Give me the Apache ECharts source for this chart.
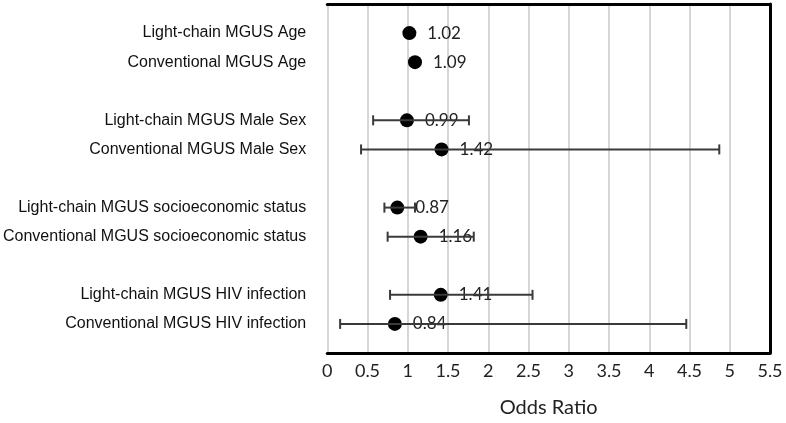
<!DOCTYPE html>
<html>
<head>
<meta charset="utf-8">
<script src="https://cdn.jsdelivr.net/npm/echarts@6/dist/echarts.min.js"></script>
<style>html,body{margin:0;padding:0;background:#fff;}#c{width:786px;height:423px;}</style>
</head>
<body>
<div id="c"></div>
<script>
var categories = ["", "Light-chain MGUS Age", "Conventional MGUS Age", "",
  "Light-chain MGUS Male Sex", "Conventional MGUS Male Sex", "",
  "Light-chain MGUS socioeconomic status", "Conventional MGUS socioeconomic status", "",
  "Light-chain MGUS HIV infection", "Conventional MGUS HIV infection", ""];
var oddsRatio = [null, 1.02, 1.09, null, 0.99, 1.42, null, 0.87, 1.16, null, 1.41, 0.84, null];
var lowerCI   = [null, 1.02, 1.09, null, 0.57, 0.42, null, 0.71, 0.75, null, 0.78, 0.16, null];
var upperCI   = [null, 1.02, 1.09, null, 1.76, 4.87, null, 1.09, 1.82, null, 2.55, 4.46, null];
var xTicks = [0, 0.5, 1, 1.5, 2, 2.5, 3, 3.5, 4, 4.5, 5, 5.5];

var pointData = [], errData = [];
for (var i = 0; i < categories.length; i++) {
  if (oddsRatio[i] == null) continue;
  pointData.push([oddsRatio[i], i]);
  if (upperCI[i] > lowerCI[i]) errData.push([lowerCI[i], upperCI[i], i]);
}

var chart = echarts.init(document.getElementById('c'), null, {renderer: 'canvas'});
chart.setOption({
  animation: false,
  grid: {left: 324, right: 16, top: 4, bottom: 67, containLabel: false},
  xAxis: [{
    type: 'value', min: 0, max: 5.5, interval: 0.5, position: 'bottom',
    axisLine: {show: true, onZero: false, lineStyle: {color: '#000', width: 3}},
    axisTick: {show: false},
    splitLine: {show: true, lineStyle: {color: '#c8c8c8', width: 1.5}},
    axisLabel: {color: '#222', fontFamily: 'Lato', fontSize: 18, margin: 9,
      formatter: function (v) { return String(v); }},
    name: 'Odds Ratio', nameLocation: 'middle', nameGap: 45,
    nameTextStyle: {color: '#222', fontFamily: 'Lato', fontSize: 20}
  }, {
    type: 'value', min: 0, max: 5.5, interval: 0.5, position: 'top',
    axisLine: {show: true, onZero: false, lineStyle: {color: '#000', width: 3}},
    axisTick: {show: false}, axisLabel: {show: false}, splitLine: {show: false}
  }],
  yAxis: [{
    type: 'category', data: categories, inverse: true, boundaryGap: false,
    axisLine: {show: false}, axisTick: {show: false}, splitLine: {show: false},
    axisLabel: {color: '#111', fontFamily: 'Liberation Sans', fontSize: 16, margin: 21, interval: 0}
  }, {
    type: 'category', data: categories, inverse: true, boundaryGap: false, position: 'right',
    axisLine: {show: true, onZero: false, lineStyle: {color: '#000', width: 3}},
    axisTick: {show: false}, axisLabel: {show: false}, splitLine: {show: false}
  }],
  series: [{
    type: 'scatter', data: pointData, symbol: 'circle', symbolSize: 14,
    itemStyle: {color: '#000', opacity: 1},
    label: {show: true, position: 'right', distance: 11, color: '#222',
      fontFamily: 'Lato', fontSize: 17,
      formatter: function (p) { return p.value[0].toFixed(2); }},
    z: 2
  }, {
    type: 'custom', data: errData, z: 3,
    renderItem: function (params, api) {
      var y = api.value(2);
      var p1 = api.coord([api.value(0), y]);
      var p2 = api.coord([api.value(1), y]);
      var h = 5;
      var st = {stroke: '#3a3a3a', lineWidth: 2};
      return {type: 'group', children: [
        {type: 'line', shape: {x1: p1[0], y1: p1[1], x2: p2[0], y2: p2[1]}, style: st},
        {type: 'line', shape: {x1: p1[0], y1: p1[1] - h, x2: p1[0], y2: p1[1] + h}, style: st},
        {type: 'line', shape: {x1: p2[0], y1: p2[1] - h, x2: p2[0], y2: p2[1] + h}, style: st}
      ]};
    },
    encode: {x: [0, 1], y: 2}
  }]
});
</script>
</body>
</html>
